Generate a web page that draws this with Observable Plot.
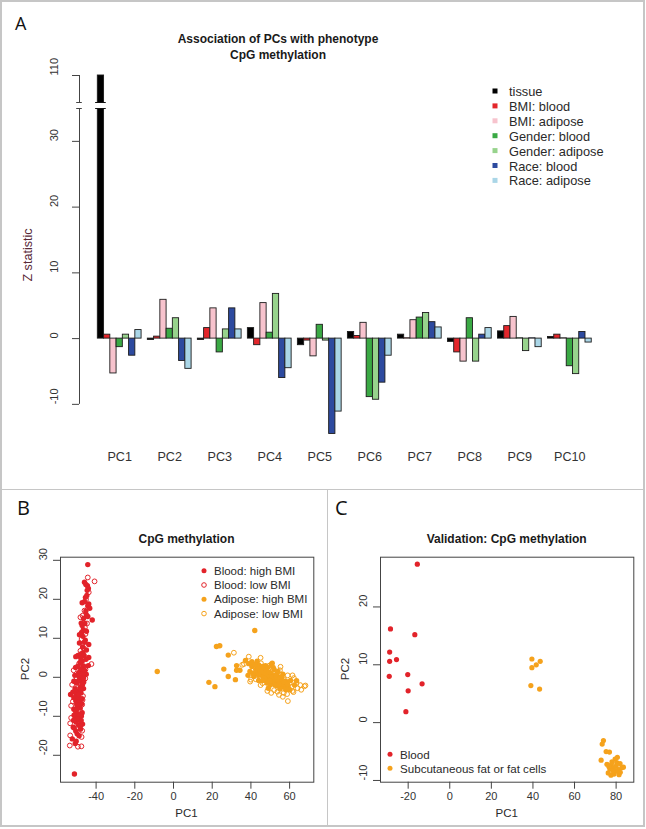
<!DOCTYPE html>
<html><head><meta charset="utf-8">
<script src="https://cdn.jsdelivr.net/npm/d3@7"></script>
<script src="https://cdn.jsdelivr.net/npm/@observablehq/plot@0.6"></script>
<style>
body{margin:0;background:#fff;}
#root{position:relative;width:646px;height:829px;overflow:hidden;background:#fff;}
.pl{position:absolute;}
.ln{position:absolute;background:#c6c6c6;}
</style></head><body><div id="root"></div><script>
// ---------- Panel A data ----------
const pcs = ["PC1","PC2","PC3","PC4","PC5","PC6","PC7","PC8","PC9","PC10"];
const seriesNames = ["tissue","BMI: blood","BMI: adipose","Gender: blood","Gender: adipose","Race: blood","Race: adipose"];
const seriesColors = ["#000000","#e3262b","#f7c3cd","#3aa944","#97d38c","#2d4a9f","#aad6e7"];
const tissue        = [110, -0.2, -0.2, 1.6, -1.0, 1.0, 0.6, -0.5, 1.1, 0.25];
const bmiBlood      = [0.6, 0.3, 1.6, -1.0, -0.3, 0.4, 0.05, -2.1, 1.9, 0.6];
const bmiAdipose    = [-5.3, 5.9, 4.6, 5.4, -2.7, 2.4, 2.8, -3.5, 3.3, 0.05];
const genderBlood   = [-1.3, 1.5, -2.1, 0.9, 2.1, -8.9, 3.2, 3.1, 0.05, -4.2];
const genderAdipose = [0.6, 3.1, 1.4, 6.8, -0.3, -9.3, 3.9, -3.5, -1.9, -5.4];
const raceBlood     = [-2.6, -3.4, 4.6, -6.0, -14.5, -6.7, 2.5, 0.6, 0.05, 1.0];
const raceAdipose   = [1.3, -4.6, 1.4, -4.5, -11.1, -2.6, 1.7, 1.6, -1.3, -0.6];
const seriesValues = [tissue, bmiBlood, bmiAdipose, genderBlood, genderAdipose, raceBlood, raceAdipose];
const yTicksA = [-10, 0, 10, 20, 30, 110];
const yBreak = [35, 106];

// ---------- Panel B data ----------
const bloodHighB = [[-44.3,28.9],[-46,24.4],[-44.5,23.5],[-45.3,23.8],[-44,22.8],[-44.6,22.3],[-47.2,19.1],[-43.8,18.8],[-44.3,18.3],[-43.3,17.7],[-45,16.0],[-44.3,15.6],[-46.5,15.1],[-42,14.7],[-47.2,13.3],[-46.6,12.2],[-48.6,10.9],[-46.8,10.5],[-47.5,11.5],[-48.6,8.8],[-43.8,8.4],[-45.6,9.5],[-46.8,6.3],[-49.4,5.6],[-43.8,5.1],[-47.8,6.0],[-45,7.0],[-45.2,4.6],[-50.5,5.3],[-47.2,4.1],[-50.6,2.5],[-46.5,2.9],[-44,3.0],[-48.1,1.6],[-45.1,0.8],[-49.0,1.2],[-47,0.3],[-51,0.5],[-48.5,-0.8],[-50,-1.5],[-46.4,-1.2],[-48.1,-2.5],[-46.5,-2.9],[-49.8,-3.5],[-52,-3.8],[-47.8,-4.0],[-53.2,-4.4],[-50.2,-4.6],[-51.5,-5.2],[-48.8,-5.5],[-50.5,-6.0],[-49.8,-6.4],[-47.5,-6.8],[-49.5,-7.6],[-48.2,-7.9],[-51.5,-8.2],[-50.6,-8.7],[-47.2,-9.1],[-49,-9.4],[-51.4,-9.7],[-47.6,-9.9],[-50.8,-10.0],[-48.6,-10.8],[-50.3,-11.5],[-47.0,-12.0],[-49.0,-12.3],[-51.8,-12.8],[-51.3,-13.0],[-48.1,-13.3],[-49.8,-14.5],[-52.3,-15.8],[-50.3,-16.4],[-50.8,-17.0],[-51.2,-24.8],[-48.0,-3.2],[-49.2,-1.0],[-47.6,2.2],[-46.2,5.6],[-48.3,3.8],[-50.0,-8.0],[-48.6,-6.2],[-47.9,-11.2],[-49.5,-5.0],[-46.8,0.9],[-45.8,13.8],[-45.5,20.5],[-47.0,-1.8],[-48.9,0.2],[-46.0,1.8],[-47.9,4.9],[-49.0,-4.4],[-50.9,-3.0],[-47.3,-5.5],[-50.0,-7.0],[-48.5,-9.8],[-49.8,-10.6],[-48.0,-12.4],[-50.5,-13.8],[-48.8,-15.0],[-51.6,-11.0],[-46.0,9.0],[-47.0,7.8],[-45.0,11.8],[-46.0,19.4],[-44.8,21.0],[-46.5,-0.2],[-49.5,2.8],[-51.5,-1.0],[-47.7,13.9],[-45.3,17.0]];
const bloodLowB = [[-44.3,25.6],[-40.8,24.6],[-43.8,21.8],[-45.2,20.0],[-46,17.1],[-48.1,15.4],[-47,15.8],[-44.7,13.8],[-45.8,12.8],[-45.5,11.1],[-47.5,9.8],[-46.5,7.5],[-48.1,6.8],[-42.4,3.4],[-48.8,3.5],[-45.5,2.0],[-51.6,1.8],[-45.6,-0.3],[-50.2,0.0],[-52.4,-1.9],[-47.2,-2.0],[-50.5,-3.0],[-46.8,-4.8],[-47.0,-5.8],[-52,-6.2],[-52.9,-7.3],[-47.2,-7.0],[-48,-8.8],[-52.9,-10.4],[-47.8,-11],[-53.4,-11.8],[-47.2,-13.7],[-53.4,-14.9],[-47.5,-15.3],[-53.6,-17.5],[-49.4,-17.8],[-47.6,-17.7]];
const adiposeHighB = [[-8.4,1.5],[42.0,12.0],[22.2,7.9],[23.9,8.1],[28.3,5.7],[18.3,-1.3],[21.4,-2.4],[26.0,2.1],[28.3,0.2],[32.6,1.8],[34.3,1.8],[32.0,-0.6],[32.6,3.0],[37.2,4.3],[38.9,3.5],[40.5,2.8],[39.5,1.5],[38.5,0.5],[41.5,0.2],[43.2,4.1],[44.5,2.2],[43.0,1.0],[45.5,0.5],[44.0,-0.8],[46.5,1.8],[47.5,3.0],[48.5,2.5],[48.0,0.8],[49.5,-0.3],[47.5,-0.8],[50.5,3.3],[51.0,3.6],[50.5,1.0],[51.5,-0.8],[50.0,-2.0],[52.5,0.5],[52.0,2.0],[53.0,-1.5],[54.5,0.0],[54.0,1.5],[55.5,-1.0],[56.0,-2.5],[56.5,0.8],[57.5,-2.0],[58.0,-1.0],[59.5,-2.8],[60.5,-0.8],[63.6,-0.9],[62.5,-2.0],[55.0,-3.0],[53.5,-2.2],[51.0,-1.5],[49.0,-2.8],[48.5,-1.5],[46.5,0.0],[44.0,0.5],[42.5,2.0],[41.0,1.0],[47.0,1.2],[50.0,0.2],[52.0,-0.5],[54.0,-0.8],[56.0,-1.8],[58.5,-2.5],[60.0,-3.2],[53.5,1.0],[51.5,2.5],[46.0,2.8],[44.0,3.2],[40.5,4.0],[45.0,1.5],[47.0,-0.2],[49.0,0.5],[51.0,0.0],[53.0,0.2],[55.0,-0.3],[57.0,-1.2],[50.0,-1.0],[48.0,2.0],[52.5,-2.0],[54.5,-1.8],[46.0,-0.8],[43.5,2.5],[56.0,-0.1],[58.0,-3.2],[49.5,1.3],[42.0,3.3],[59.0,-1.8]];
const adiposeLowB = [[31.2,6.3],[35.5,3.2],[38.9,5.3],[36.4,3.4],[40.0,-0.6],[39.6,-1.1],[45.2,3.6],[46.0,-1.5],[49.0,1.8],[52.0,-3.3],[53.7,-3.7],[55.3,2.7],[57.0,-0.5],[58.7,-4.3],[59.1,-6.1],[60.0,-1.5],[61.0,-2.5],[62.2,-0.2],[64.1,-2.8],[65.5,-2.0],[67.7,-2.3],[68.2,-2.1],[61.5,-3.5],[57.0,-4.0],[42.5,-0.5],[45.0,-2.0],[62.0,-3.8],[63.5,-1.5],[66.0,-3.2],[59.0,0.5],[61.5,0.5],[55.0,1.8],[49.5,3.0],[48.5,-3.5],[50.5,-4.0],[54.5,-4.5],[56.5,-5.0],[45.0,5.0]];
const xTicksB = [-40, -20, 0, 20, 40, 60];
const yTicksB = [-20, -10, 0, 10, 20, 30];
const legendB = ["Blood: high BMI", "Blood: low BMI", "Adipose: high BMI", "Adipose: low BMI"];

// ---------- Panel C data ----------
const bloodC = [[-15.6,27.4],[-28.5,16.2],[-16.8,15.2],[-28.9,12.2],[-28.9,10.6],[-25.6,10.9],[-29.1,8.0],[-20.2,8.3],[-20.0,5.5],[-13.3,6.7],[-21.1,1.9]];
const adiposeC = [[39.5,11.0],[43.5,10.6],[41.6,10.0],[39.5,9.5],[39.0,6.4],[43.2,5.8],[73.9,-3.1],[73.3,-3.7],[75.2,-5.0],[76.8,-5.1],[72.8,-6.5],[75.6,-7.2],[77.7,-7.3],[79.5,-6.3],[80.3,-6.9],[78.7,-7.8],[81.1,-8.1],[82.7,-7.8],[83.5,-7.7],[76.2,-8.7],[79.0,-8.9],[81.4,-9.0],[77.0,-8.0],[80.0,-7.5],[81.9,-7.1],[78.0,-6.8],[79.8,-8.4],[76.5,-7.6],[82.0,-8.6],[80.6,-6.0],[78.5,-8.3],[77.5,-9.1]];
const xTicksC = [-20, 0, 20, 40, 60, 80];
const yTicksC = [-10, 0, 10, 20];
const legendC = ["Blood", "Subcutaneous fat or fat cells"];

const RED = "#e2232a", ORANGE = "#f5a21c";
const FONT = '"Liberation Sans", Arial, Helvetica, sans-serif';
const AXIS = "#444";
const root = document.getElementById("root");

function place(el, left, top) {
  el.classList.add("pl"); el.style.left = left + "px"; el.style.top = top + "px"; root.appendChild(el);
}
const baseStyle = {fontFamily: FONT, fontSize: "11px", color: "#2a2a2a", background: "transparent", overflow: "visible"};

// ---------- Panel A ----------
const bars = [];
pcs.forEach((pc, i) => seriesNames.forEach((s, j) => bars.push({pc, series: s, value: seriesValues[j][i], x1: i * 8 + 1 + j, x2: i * 8 + 2 + j})));
const tall = bars.filter(d => d.value > yBreak[1]);
const xMinA = -1.93;
const plotA = Plot.plot({
  width: 646, height: 480, marginLeft: 79, marginRight: 36, marginTop: 75, marginBottom: 37,
  style: baseStyle,
  x: {type: "linear", domain: [xMinA, 83], range: [79, 610], axis: null},
  y: {type: "linear", domain: [-16, yBreak[0], yBreak[1], 110], range: [443.3, 108, 102, 75], axis: null},
  color: {domain: seriesNames, range: seriesColors},
  marks: [
    Plot.rect(bars, {x1: "x1", x2: "x2", y1: 0, y2: "value", fill: "series", stroke: "#1c1c1c", strokeWidth: 0.9}),
    Plot.rect(tall, {x1: d => d.x1 - 0.35, x2: d => d.x2 + 0.35, y1: yBreak[0], y2: yBreak[1], fill: "white"}),
    Plot.ruleY(tall.flatMap(d => yBreak.map(y => ({...d, y}))), {y: "y", x1: d => d.x1 - 0.35, x2: d => d.x2 + 0.35, stroke: "#111"}),
    Plot.ruleX([{y1: yTicksA[0], y2: yBreak[0]}, {y1: yBreak[1], y2: yTicksA[yTicksA.length - 1]}], {x: xMinA, y1: "y1", y2: "y2", stroke: AXIS}),
    Plot.ruleY(yBreak, {y: d => d, x1: xMinA - 0.45, x2: xMinA + 0.45, stroke: AXIS}),
    Plot.axisY({ticks: yTicksA, tickSize: 7, tickFormat: () => "", label: null, stroke: AXIS}),
    Plot.text(yTicksA, {y: d => d, text: d => String(d), frameAnchor: "left", dx: -25.5, rotate: -90, fontSize: 11, fill: "#333"}),
    Plot.text(pcs, {x: (d, i) => i * 8 + 4.5, text: d => d, frameAnchor: "bottom", dy: 17.5, fontSize: 12.6, fill: "#333"})
  ]
});
place(plotA, 0, 0);

// ---------- scatter helper ----------
function scatter({width, marginLeft, marginRight, xDomain, yDomain, xTicks, yTicks, marks}) {
  return Plot.plot({
    width, height: 337, marginLeft, marginRight, marginTop: 67.7, marginBottom: 44.3,
    style: baseStyle,
    x: {domain: xDomain}, y: {domain: yDomain},
    marks: [
      Plot.frame({stroke: AXIS}),
      Plot.axisX({ticks: xTicks, tickSize: 7, tickPadding: 3, tickFormat: d => String(d), label: null, fontSize: 11, stroke: AXIS, fill: "#333"}),
      Plot.axisY({ticks: yTicks, tickSize: 7, tickFormat: () => "", label: null, stroke: AXIS}),
      Plot.text(yTicks, {y: d => d, text: d => String(d), frameAnchor: "left", dx: -17, rotate: -90, fontSize: 11, fill: "#333"}),
      ...marks
    ]
  });
}
const px = d => d[0], py = d => d[1];
const plotB = scatter({
  width: 327, marginLeft: 60, marginRight: 13.7, xDomain: [-58.4, 72.5], yDomain: [-26.9, 30.8], xTicks: xTicksB, yTicks: yTicksB,
  marks: [
    Plot.dot(bloodHighB, {x: px, y: py, r: 2.7, fill: RED}),
    Plot.dot(bloodLowB, {x: px, y: py, r: 2.4, stroke: RED, fill: "none", strokeWidth: 1}),
    Plot.dot(adiposeHighB, {x: px, y: py, r: 2.7, fill: ORANGE}),
    Plot.dot(adiposeLowB, {x: px, y: py, r: 2.4, stroke: ORANGE, fill: "none", strokeWidth: 1})
  ]
});
place(plotB, 0, 489);
const plotC = scatter({
  width: 316, marginLeft: 53, marginRight: 9.7, xDomain: [-33.3, 88.5], yDomain: [-10.3, 28.6], xTicks: xTicksC, yTicks: yTicksC,
  marks: [
    Plot.dot(bloodC, {x: px, y: py, r: 2.6, fill: RED}),
    Plot.dot(adiposeC, {x: px, y: py, r: 2.6, fill: ORANGE})
  ]
});
place(plotC, 327, 489);

// ---------- frame lines ----------
function line(l, t, w, h) { const d = document.createElement("div"); d.className = "ln"; Object.assign(d.style, {left: l + "px", top: t + "px", width: w + "px", height: h + "px"}); root.appendChild(d); }
line(0, 0, 645, 1.5); line(0, 0, 1.5, 827); line(643, 0, 1.5, 827); line(0, 825, 645, 1.5);
line(0, 488.5, 645, 1.5); line(326.5, 489, 1.5, 337);

// ---------- annotations ----------
const NS = "http://www.w3.org/2000/svg";
const ov = document.createElementNS(NS, "svg");
ov.setAttribute("width", 646); ov.setAttribute("height", 829);
Object.assign(ov.style, {position: "absolute", left: "0px", top: "0px", pointerEvents: "none", fontFamily: FONT});
root.appendChild(ov);
function txt(s, x, y, o = {}) {
  const t = document.createElementNS(NS, "text");
  t.textContent = s;
  t.setAttribute("x", x); t.setAttribute("y", y);
  t.setAttribute("font-size", o.size || 12.6);
  t.setAttribute("text-anchor", o.anchor || "middle");
  t.setAttribute("fill", o.fill || "#2a2a2a");
  if (o.weight) t.setAttribute("font-weight", o.weight);
  if (o.family) t.setAttribute("font-family", o.family);
  if (o.central) t.setAttribute("dominant-baseline", "central");
  if (o.rotate) t.setAttribute("transform", `rotate(${o.rotate},${x},${y})`);
  ov.appendChild(t);
}
function shape(tag, attrs) { const e = document.createElementNS(NS, tag); for (const k in attrs) e.setAttribute(k, attrs[k]); ov.appendChild(e); }

const LETTER = '"Open Sans", "Liberation Sans", sans-serif';
txt("A", 15, 30, {size: 18, anchor: "start", family: LETTER, fill: "#111"});
txt("B", 17, 515, {size: 20, anchor: "start", family: LETTER, fill: "#111"});
txt("C", 335, 515, {size: 20, anchor: "start", family: LETTER, fill: "#111"});

txt("Association of PCs with phenotype", 278, 42.6, {size: 12, weight: "bold", fill: "#1a1a1a"});
txt("CpG methylation", 278, 58.8, {size: 12, weight: "bold", fill: "#1a1a1a"});
txt("Z statistic", 27.5, 255, {size: 12.6, central: true, rotate: -90, fill: "#5a2a38"});
seriesNames.forEach((s, i) => {
  const cy = 91.5 + 14.9 * i;
  shape("rect", {x: 492.5, y: cy - 3, width: 5, height: 5, fill: seriesColors[i]});
  txt(s, 509, cy, {size: 12.8, anchor: "start", central: true});
});

txt("CpG methylation", 186.5, 542.7, {size: 12, weight: "bold", fill: "#1a1a1a"});
txt("PC1", 186.5, 813.3, {size: 11.5, central: true});
txt("PC2", 25, 669, {size: 11.5, central: true, rotate: -90});
legendB.forEach((s, i) => {
  const cy = 570.7 + 14.3 * i;
  const col = i < 2 ? RED : ORANGE;
  if (i % 2 === 0) shape("circle", {cx: 204, cy, r: 2.5, fill: col});
  else shape("circle", {cx: 204, cy, r: 2.3, fill: "none", stroke: col, "stroke-width": 1});
  txt(s, 214, cy, {size: 11.5, anchor: "start", central: true});
});

txt("Validation: CpG methylation", 506.7, 542.7, {size: 12, weight: "bold", fill: "#1a1a1a"});
txt("PC1", 506.7, 813.3, {size: 11.5, central: true});
txt("PC2", 345, 669, {size: 11.5, central: true, rotate: -90});
legendC.forEach((s, i) => {
  const cy = 754.3 + 14 * i;
  shape("circle", {cx: 390, cy, r: 2.5, fill: i === 0 ? RED : ORANGE});
  txt(s, 400, cy, {size: 11.6, anchor: "start", central: true});
});
</script></body></html>
